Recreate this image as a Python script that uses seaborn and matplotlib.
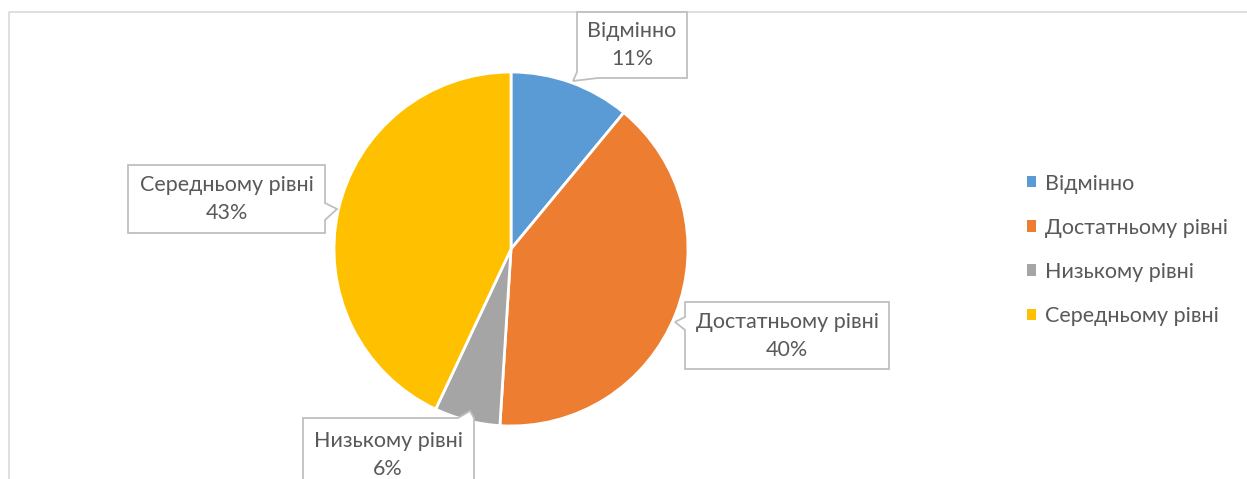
import matplotlib
matplotlib.use("Agg")
import matplotlib.pyplot as plt
import seaborn as sns
from matplotlib.patches import Polygon
from matplotlib.lines import Line2D

categories = ["Відмінно", "Достатньому рівні", "Низькому рівні", "Середньому рівні"]
values = [11, 40, 6, 43]
colors = ["#5B9BD5", "#ED7D31", "#A5A5A5", "#FFC000"]

sns.set_theme(style="white")
plt.rcParams["font.family"] = ["Lato", "DejaVu Sans"]
TXT = "#595959"
FS = 15.5

W, H = 1247, 479
fig = plt.figure(figsize=(W / 100, H / 100), dpi=100)

# overlay in pixel coordinates
ov = fig.add_axes([0, 0, 1, 1])
ov.set_xlim(0, W)
ov.set_ylim(H, 0)
ov.axis("off")

# chart border (partially visible)
ov.add_line(Line2D([8.5, 8.5, W + 5], [H + 5, 11.5, 11.5], color="#D9D9D9", lw=1.2))

# pie
cx, cy, r = 511, 249, 177
pax = fig.add_axes([(cx - r) / W, (H - cy - r) / H, 2 * r / W, 2 * r / H])
wedges, _ = pax.pie(values, colors=colors, startangle=90, counterclock=False,
                    wedgeprops=dict(edgecolor="white", linewidth=2))
pax.set_xlim(-1, 1)
pax.set_ylim(-1, 1)
pax.set_aspect("equal")
pax.axis("off")

# callout boxes (pixel layout)
callouts = [
    ([(577, 12), (687, 12), (687, 78), (598, 78), (573, 81), (577, 72)], (632, 45)),
    ([(685, 302), (889, 302), (889, 369), (685, 369), (685, 330), (675, 322), (685, 317)], (787, 336)),
    ([(303, 418), (458, 418), (470, 411), (474, 418), (474, 490), (303, 490)], (388, 455)),
    ([(128, 165), (325, 165), (325, 203), (337, 209), (325, 220), (325, 233), (128, 233)], (227, 199)),
]
for (pts, (tx, ty)), cat, v in zip(callouts, categories, values):
    ov.add_patch(Polygon(pts, closed=True, facecolor="white", edgecolor="#BFBFBF", lw=1.3, zorder=3))
    ov.text(tx, ty, f"{cat}\n{v}%", ha="center", va="center", color=TXT,
            fontsize=FS, linespacing=1.5, zorder=4)
ov.set_zorder(pax.get_zorder() + 1)
ov.patch.set_visible(False)

# legend
leg = fig.legend(wedges, categories, loc="upper left",
                 bbox_to_anchor=(1027 / W, 1 - 173.5 / H), frameon=False,
                 fontsize=FS, labelcolor=TXT, handlelength=0.42, handleheight=0.42,
                 handletextpad=0.42, labelspacing=1.12, borderpad=0, borderaxespad=0)
for h in leg.legend_handles:
    h.set_edgecolor("none")

fig.savefig("out.png", dpi=100)
